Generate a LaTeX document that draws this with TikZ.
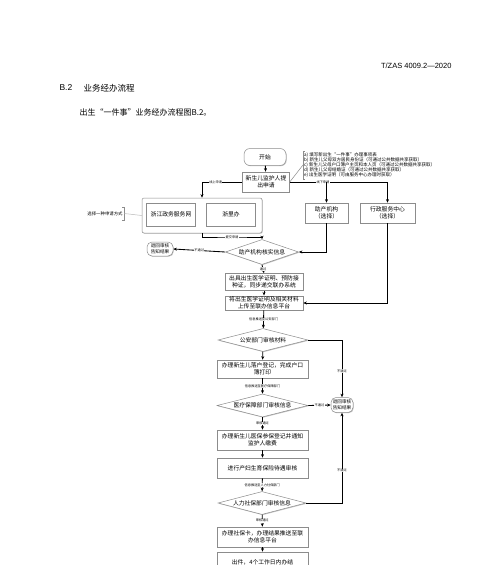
\documentclass[tikz,border=0pt]{standalone}
\usepackage{fontspec}
\setmainfont{Noto Sans CJK SC}
\newfontfamily\latinfont{Liberation Sans}
\usepackage{tikz}
\usetikzlibrary{arrows.meta, positioning, shapes.geometric, shadows}
\definecolor{bordergray}{RGB}{140,140,140}
\definecolor{shadowgray}{RGB}{195,195,195}

\begin{document}
\begin{tikzpicture}[x=1pt, y=-1pt, >={Stealth[length=3.6pt, width=3pt]},
  flowbox/.style={draw=bordergray, fill=white, line width=0.5pt, align=center, inner sep=1pt,
    font=\fontsize{5.8}{7}\selectfont,
    drop shadow={shadow xshift=0.7pt, shadow yshift=-0.7pt, fill=shadowgray, opacity=1}},
  decision/.style={flowbox, diamond, aspect=4, inner sep=0.5pt},
  terminal/.style={flowbox, rounded corners=6pt},
  retour/.style={flowbox, rounded corners=5pt, font=\fontsize{4.6}{5.6}\selectfont, minimum width=24, minimum height=14},
  lab/.style={fill=white, inner sep=0.4pt, font=\fontsize{3.2}{3.8}\selectfont},
  flow/.style={->, line width=0.85pt}]

\fill[white] (0,0) rectangle (500,565);
\useasboundingbox (0,0) rectangle (500,565);
\clip (0,0) rectangle (500,565);

% En-tete
\node[anchor=east, font=\latinfont\fontsize{7.5}{9}\selectfont] (stdno) at (455,66) {T/ZAS 4009.2—2020};
\node[anchor=west, font=\latinfont\fontsize{8.5}{10}\selectfont] (secno) at (56,88) {B.2};
\node[anchor=west, font=\fontsize{8.5}{10}\selectfont] (sectitle) at (80,88) {业务经办流程};
\node[anchor=west, font=\fontsize{8}{10}\selectfont] (intro) at (76,112) {出生“一件事”业务经办流程图B.2。};

% Demande
\node[terminal, minimum width=42, minimum height=17] (start) at (265,157) {开始};
\node[flowbox, minimum width=47, minimum height=20] (apply) at (266,182) {新生儿监护人提\\出申请};
\node[anchor=north west, align=left, inner sep=1pt, font=\fontsize{4.5}{5.2}\selectfont] (note) at (303,151)
  {a) 填写新出生“一件事”办理事项表\\
   b) 新生儿父母双方居民身份证（可通过公共数据共享获取）\\
   c) 新生儿父母户口簿户主页和本人页（可通过公共数据共享获取）\\
   d) 新生儿父母结婚证（可通过公共数据共享获取）\\
   e) 出生医学证明（可由服务中心办理时获取）};
\draw[bordergray, line width=0.5pt] ([xshift=2pt]note.north west) -- (note.north west) -- (note.south west) -- ([xshift=2pt]note.south west);
\draw[bordergray, line width=0.5pt] (apply.east) -- (note.west);

% Canaux en ligne
\node[flowbox, rounded corners=2pt, minimum width=120, minimum height=35] (online) at (202,215.5) {};
\node[flowbox, minimum width=49, minimum height=23] (zjzwfw) at (171,214.5) {浙江政务服务网};
\node[flowbox, minimum width=49, minimum height=23] (zlb) at (231,214.5) {浙里办};
\node[inner sep=1.5pt, minimum height=13, font=\fontsize{4.4}{5}\selectfont] (choose) at (105,213.5) {选择一种申请方式};
\draw[bordergray, line width=0.5pt] ([xshift=-2pt]choose.north east) -- (choose.north east) -- (choose.south east) -- ([xshift=-2pt]choose.south east);
\draw[bordergray!60, line width=0.5pt] (choose.east) -- (online.west);

% Canaux hors ligne
\node[flowbox, minimum width=43, minimum height=20] (hosp) at (326.5,213) {助产机构\\（选择）};
\node[flowbox, minimum width=55, minimum height=20] (center) at (387.5,213) {行政服务中心\\（选择）};

% Verifications
\node[decision, minimum width=70, minimum height=25] (dia1) at (262,252) {助产机构核实信息};
\node[retour, minimum width=26] (reject1) at (160,249) {退回审核\\告知结果};
\node[flowbox, minimum width=78, minimum height=17] (cert) at (264,282) {出具出生医学证明、预防接\\种证，同步递交联办系统};
\node[flowbox, minimum width=78, minimum height=14] (upload) at (264,303) {将出生医学证明及相关材料\\上传至联办信息平台};
\node[decision, minimum width=90, minimum height=23] (dia2) at (263,340) {公安部门审核材料};
\node[flowbox, minimum width=91, minimum height=18] (household) at (262.5,369) {办理新生儿落户登记，完成户口\\簿打印};
\node[decision, minimum width=91, minimum height=23] (dia3) at (262.5,405.5) {医疗保障部门审核信息};
\node[retour, minimum width=22, minimum height=15] (reject2) at (342,405) {退回审核\\告知结果};
\node[flowbox, minimum width=91, minimum height=20] (medical) at (262.5,440) {办理新生儿医保参保登记并通知\\监护人缴费};
\node[flowbox, minimum width=91, minimum height=20] (maternity) at (262.5,468) {进行产妇生育保险待遇审核};
\node[decision, minimum width=88, minimum height=23] (dia4) at (262,503) {人力社保部门审核信息};
\node[flowbox, minimum width=91, minimum height=20] (sscard) at (262.5,537) {办理社保卡，办理结果推送至联\\办信息平台};
\node[flowbox, minimum width=91, minimum height=20] (finish) at (262.5,562) {出件，4个工作日内办结};

% Liaisons
\coordinate (submit) at (232,237);
\draw[flow] (start) -- (apply);
\draw[flow] (apply.west) -| node[lab, pos=0.33] {线上申请} (online.north);
\draw[flow] (apply.east) -| node[lab, pos=0.17] {线下申请} (center.north);
\draw[flow] (apply.east -| hosp.north) -- (hosp.north);
\draw[flow] (online.south) |- (submit) node[lab] {提交申请} -| (dia1.north);
\draw[flow] (hosp.south) |- (dia1.east);
\draw[flow] (dia1.west) -- node[lab] {不通过} (reject1.east);
\draw[flow] (dia1.south) -- node[lab] {通过} (cert.north);
\draw[flow] (cert) -- (upload);
\draw[flow] (center.south) |- (upload.east);
\draw[flow] (upload) -- node[lab] {信息推送至公安部门} (dia2);
\draw[flow] (dia2) -- (household);
\draw[flow] (dia2.east) -| node[lab, pos=0.77] {不通过} (reject2.north);
\draw[flow] (household) -- node[lab] {信息推送至医疗保障部门} (dia3);
\draw[flow] (dia3.east) -- node[lab] {不通过} (reject2.west);
\draw[flow] (dia3) -- node[lab] {审核通过} (medical);
\draw[flow] (medical) -- (maternity);
\draw[flow] (maternity) -- node[lab] {信息推送至人力社保部门} (dia4);
\draw[flow] (dia4.east) -| node[lab, pos=0.68] {不通过} (reject2.south);
\draw[flow] (dia4) -- node[lab] {审核通过} (sscard);
\draw[flow] (sscard) -- (finish);

\end{tikzpicture}
\end{document}
